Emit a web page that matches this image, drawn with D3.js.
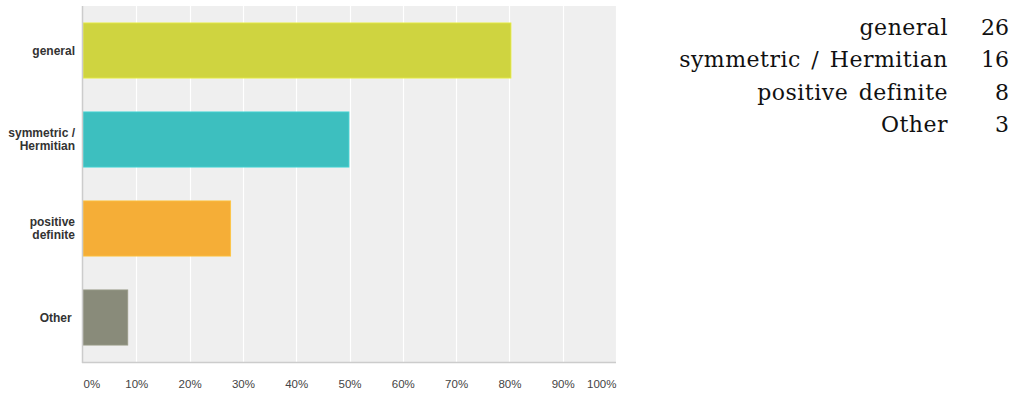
<!DOCTYPE html>
<html>
<head>
<meta charset="utf-8">
<script src="https://cdn.jsdelivr.net/npm/d3@7"></script>
<style>
  html, body { margin: 0; padding: 0; background: #fff; }
  svg { display: block; }
</style>
</head>
<body>
<svg id="chart" width="1015" height="393"></svg>
<script>
// ---- data ----
const categories = ["general", "symmetric / Hermitian", "positive definite", "Other"];
const axisLabels = [["general"], ["symmetric /", "Hermitian"], ["positive", "definite"], ["Other "]];
const percents = [80.3, 49.9, 27.7, 8.4];
const counts = [26, 16, 8, 3];
const barColors = ["#cfd440", "#3dbfbf", "#f5ae37", "#898b7a"];
const tickValues = [0, 10, 20, 30, 40, 50, 60, 70, 80, 90, 100];
const tickLabels = ["0%", "10%", "20%", "30%", "40%", "50%", "60%", "70%", "80%", "90%", "100%"];

// ---- layout ----
const svg = d3.select("#chart");
const plot = { left: 83, right: 616, top: 6, bottom: 362 };

const x = d3.scaleLinear().domain([0, 100]).range([plot.left, plot.right]);
const y = d3.scaleBand().domain(categories).range([plot.top, plot.bottom])
  .paddingInner(0.38).paddingOuter(0.19);

// background
svg.append("rect")
  .attr("x", plot.left).attr("y", plot.top)
  .attr("width", plot.right - plot.left).attr("height", plot.bottom - plot.top)
  .attr("fill", "#efefef");

// gridlines
svg.append("g").selectAll("line")
  .data(tickValues.filter(d => d > 0))
  .join("line")
  .attr("x1", d => Math.round(x(d)) + 0.5).attr("x2", d => Math.round(x(d)) + 0.5)
  .attr("y1", plot.top).attr("y2", plot.bottom)
  .attr("stroke", "#ffffff").attr("stroke-width", 1.2);

// bars
svg.append("g").selectAll("rect")
  .data(categories)
  .join("rect")
  .attr("x", x(0))
  .attr("y", d => y(d))
  .attr("width", (d, i) => x(percents[i]) - x(0))
  .attr("height", y.bandwidth())
  .attr("fill", (d, i) => barColors[i])
  .attr("stroke", (d, i) => d3.color(barColors[i]).brighter(0.35))
  .attr("stroke-width", 0.8);

// axis lines
svg.append("line")
  .attr("x1", plot.left - 0.5).attr("x2", plot.left - 0.5)
  .attr("y1", plot.top).attr("y2", plot.bottom + 1)
  .attr("stroke", "#cccccc").attr("stroke-width", 1.5);
svg.append("line")
  .attr("x1", plot.left - 1).attr("x2", plot.right)
  .attr("y1", plot.bottom + 0.5).attr("y2", plot.bottom + 0.5)
  .attr("stroke", "#cccccc").attr("stroke-width", 1.5);

// x tick labels
const xAxis = d3.axisBottom(x).tickValues(tickValues)
  .tickFormat((d, i) => tickLabels[i]).tickSize(0).tickPadding(0);
const gx = svg.append("g").attr("transform", `translate(0, ${plot.bottom})`).call(xAxis);
gx.select(".domain").remove();
gx.selectAll("text")
  .attr("y", 25.5).attr("dy", null)
  .attr("font-family", "'Liberation Sans', Arial, sans-serif")
  .attr("font-size", 11.5)
  .attr("fill", "#444")
  .attr("text-anchor", (d, i) => i === 0 ? "start" : (i === tickValues.length - 1 ? "end" : "middle"));

// y category labels
const yl = svg.append("g").selectAll("text")
  .data(categories)
  .join("text")
  .attr("x", 75)
  .attr("text-anchor", "end")
  .attr("font-family", "'Liberation Sans', Arial, sans-serif")
  .attr("font-size", 12)
  .attr("font-weight", "bold")
  .attr("fill", "#333")
  .style("white-space", "pre")
  .attr("y", d => y(d) + y.bandwidth() / 2);
yl.each(function(d, i) {
  const lines = axisLabels[i];
  const n = lines.length;
  d3.select(this).selectAll("tspan")
    .data(lines)
    .join("tspan")
    .attr("x", 75)
    .attr("dy", (l, j) => j === 0 ? (4.3 - (n - 1) * 6.5) + "px" : "13px")
    .text(l => l);
});

// legend (right-side table)
const legendY = d3.scalePoint().domain(categories).range([35, 132]);
const lg = svg.append("g")
  .attr("font-family", "'DejaVu Serif', serif")
  .attr("font-size", 22)
  .attr("fill", "#111");
lg.selectAll("text.name")
  .data(categories)
  .join("text")
  .attr("class", "name")
  .attr("x", 948)
  .attr("y", d => legendY(d))
  .attr("text-anchor", "end")
  .style("letter-spacing", "0.5px")
  .style("word-spacing", "3px")
  .text(d => d);
lg.selectAll("text.count")
  .data(categories)
  .join("text")
  .attr("class", "count")
  .attr("x", 1009)
  .attr("y", d => legendY(d))
  .attr("text-anchor", "end")
  .text((d, i) => counts[i]);
</script>
</body>
</html>
